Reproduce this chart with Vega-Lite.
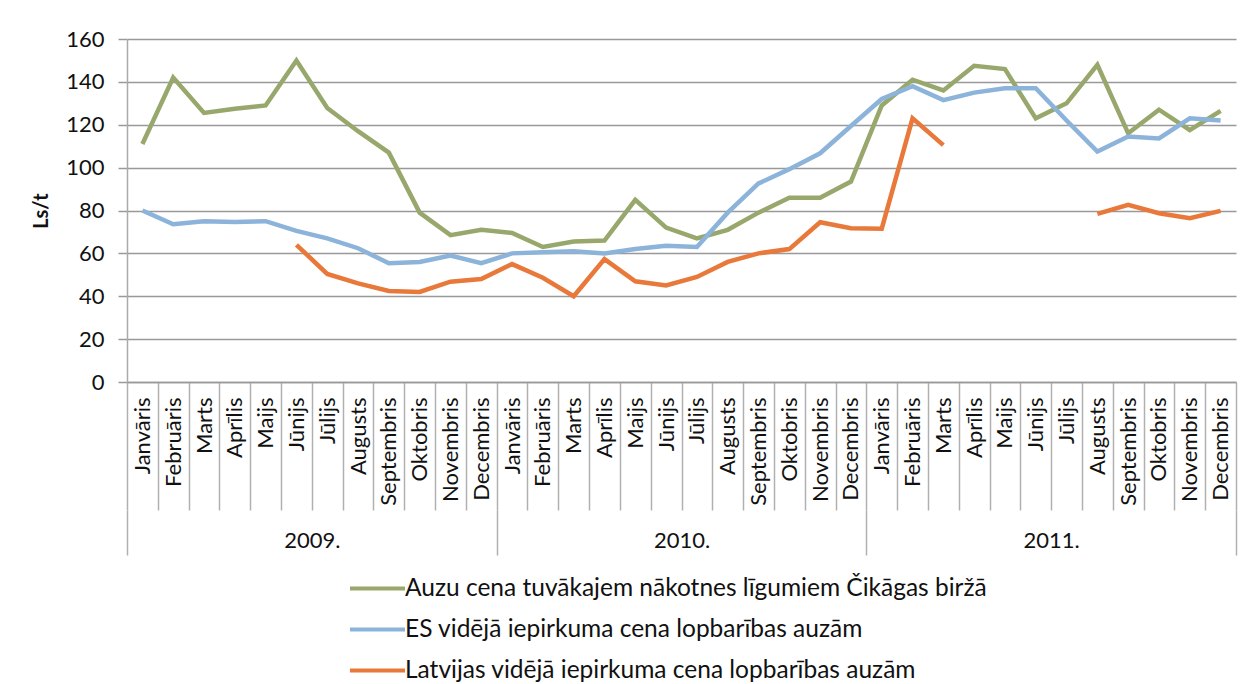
{
  "$schema": "https://vega.github.io/schema/vega-lite/v6.json",
  "width": 1109,
  "height": 343,
  "autosize": {"type": "none"},
  "padding": {"left": 127, "top": 39, "right": 7, "bottom": 302},
  "background": "white",
  "config": {"view": {"stroke": null}, "font": "Lato"},
  "layer": [
    {
      "data": {"values": [
        {"m": "Janvāris 2009", "g": 111, "b": 80, "o": null},
        {"m": "Februāris 2009", "g": 142, "b": 73.6, "o": null},
        {"m": "Marts 2009", "g": 125.5, "b": 75, "o": null},
        {"m": "Aprīlis 2009", "g": 127.5, "b": 74.6, "o": null},
        {"m": "Maijs 2009", "g": 129, "b": 75, "o": null},
        {"m": "Jūnijs 2009", "g": 150, "b": 70.5, "o": 64},
        {"m": "Jūlijs 2009", "g": 127.8, "b": 67, "o": 50.4},
        {"m": "Augusts 2009", "g": 117, "b": 62.4, "o": 46},
        {"m": "Septembris 2009", "g": 107, "b": 55.4, "o": 42.5},
        {"m": "Oktobris 2009", "g": 79, "b": 56, "o": 42},
        {"m": "Novembris 2009", "g": 68.5, "b": 59, "o": 46.8},
        {"m": "Decembris 2009", "g": 71, "b": 55.4, "o": 48},
        {"m": "Janvāris 2010", "g": 69.5, "b": 60, "o": 55},
        {"m": "Februāris 2010", "g": 63, "b": 60.5, "o": 48.6},
        {"m": "Marts 2010", "g": 65.5, "b": 61, "o": 40},
        {"m": "Aprīlis 2010", "g": 66, "b": 60, "o": 57.3},
        {"m": "Maijs 2010", "g": 85, "b": 62, "o": 47},
        {"m": "Jūnijs 2010", "g": 72, "b": 63.5, "o": 45},
        {"m": "Jūlijs 2010", "g": 67, "b": 63, "o": 49},
        {"m": "Augusts 2010", "g": 71, "b": 79, "o": 56},
        {"m": "Septembris 2010", "g": 79, "b": 92.6, "o": 60},
        {"m": "Oktobris 2010", "g": 86, "b": 99.3, "o": 62},
        {"m": "Novembris 2010", "g": 86, "b": 106.7, "o": 74.5},
        {"m": "Decembris 2010", "g": 93.5, "b": 119.4, "o": 71.7},
        {"m": "Janvāris 2011", "g": 129, "b": 132, "o": 71.5},
        {"m": "Februāris 2011", "g": 141, "b": 138, "o": 123},
        {"m": "Marts 2011", "g": 136, "b": 131.5, "o": 110.5},
        {"m": "Aprīlis 2011", "g": 147.5, "b": 135, "o": null},
        {"m": "Maijs 2011", "g": 146, "b": 137, "o": null},
        {"m": "Jūnijs 2011", "g": 123, "b": 137, "o": null},
        {"m": "Jūlijs 2011", "g": 130, "b": 122, "o": null},
        {"m": "Augusts 2011", "g": 148, "b": 107.5, "o": 78.4},
        {"m": "Septembris 2011", "g": 116, "b": 114.5, "o": 82.6},
        {"m": "Oktobris 2011", "g": 127, "b": 113.6, "o": 78.7},
        {"m": "Novembris 2011", "g": 117.5, "b": 123, "o": 76.4},
        {"m": "Decembris 2011", "g": 126.5, "b": 122, "o": 79.8}
      ]},
      "transform": [{"fold": ["g", "b", "o"], "as": ["s", "v"]}],
      "mark": {"type": "line", "strokeWidth": 4.5, "invalid": "break-paths-show-domains"},
      "encoding": {
        "x": {
          "field": "m", "type": "nominal", "sort": null, "bandPosition": 0.5,
          "scale": {"type": "band", "paddingInner": 0, "paddingOuter": 0},
          "axis": {
            "orient": "bottom", "title": null, "labelAngle": -90,
            "labelExpr": "isValid(datum.value) ? split(datum.value, ' ')[0] : ''",
            "tickBand": "extent", "tickSize": 128, "tickColor": "#b0b0b0", "tickWidth": 1.5,
            "domainColor": "#999999", "domainWidth": 1.5,
            "labelPadding": -113, "labelFont": "Lato", "labelFontSize": 22, "labelColor": "#111111",
            "grid": false
          }
        },
        "y": {
          "field": "v", "type": "quantitative",
          "scale": {"domain": [0, 160], "nice": false},
          "axis": {
            "values": [0, 20, 40, 60, 80, 100, 120, 140, 160],
            "title": "Ls/t", "titleFont": "Lato", "titleFontSize": 20, "titleFontWeight": "bold", "titleColor": "#111111", "titlePadding": 14,
            "labelFont": "Lato", "labelFontSize": 22, "labelColor": "#111111", "labelPadding": 14,
            "tickSize": 9, "tickColor": "#999999", "tickWidth": 1.5,
            "domainColor": "#aaaaaa", "domainWidth": 1.5,
            "gridColor": "#999999", "gridWidth": 1.5
          }
        },
        "color": {
          "field": "s", "type": "nominal",
          "scale": {"domain": ["g", "b", "o"], "range": ["#98a76c", "#8cb3d9", "#e8793a"]},
          "legend": {
            "orient": "none", "legendX": 221, "legendY": 520, "direction": "vertical",
            "title": null, "padding": 0,
            "symbolType": "stroke", "symbolSize": 3025, "symbolStrokeWidth": 4,
            "labelFont": "Lato", "labelFontSize": 24.5, "labelColor": "#111111", "labelLimit": 0, "labelOffset": -2,
            "rowPadding": 0,
            "labelExpr": "datum.label == 'g' ? 'Auzu cena tuvākajem nākotnes līgumiem Čikāgas biržā' : datum.label == 'b' ? 'ES vidējā iepirkuma cena lopbarības auzām' : 'Latvijas vidējā iepirkuma cena lopbarības auzām'"
          }
        }
      }
    },
    {
      "data": {"values": [{"y": "2009."}, {"y": "2010."}, {"y": "2011."}]},
      "mark": {"type": "point", "opacity": 0},
      "encoding": {
        "x": {
          "field": "y", "type": "nominal", "sort": null,
          "scale": {"type": "band", "paddingInner": 0, "paddingOuter": 0},
          "axis": {
            "orient": "bottom", "offset": 128, "title": null, "labelAngle": 0,
            "domain": false, "tickBand": "extent", "tickSize": 45, "tickColor": "#b0b0b0", "tickWidth": 1.5,
            "labelPadding": -25, "labelFont": "Lato", "labelFontSize": 22, "labelColor": "#111111",
            "grid": false
          }
        }
      }
    }
  ],
  "resolve": {"scale": {"x": "independent"}, "axis": {"x": "independent"}}
}
